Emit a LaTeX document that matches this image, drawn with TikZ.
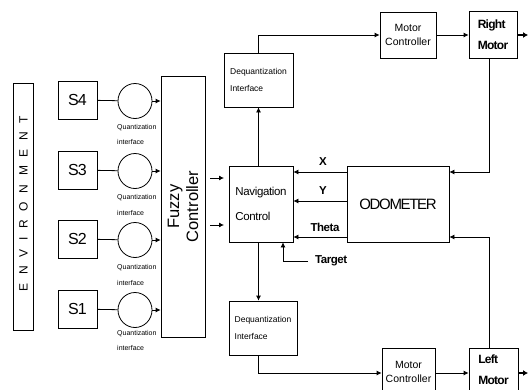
\documentclass[tikz,border=0pt]{standalone}
\usepackage{fontspec}
\setmainfont{Liberation Sans}
\usetikzlibrary{arrows.meta}
\tikzset{
  box/.style={draw, line width=0.8pt, rectangle, inner sep=0pt},
  ln/.style={line width=0.8pt},
  arr/.style={line width=0.8pt, -{Latex[length=5pt,width=5pt]}},
  outarr/.style={line width=1.6pt, -{Latex[length=5pt,width=6pt]}},
  qcirc/.style={draw, ellipse, line width=0.8pt, minimum width=34pt, minimum height=35pt, inner sep=0pt},
  qlab/.style={anchor=west, inner sep=0pt, font=\fontsize{7}{8}\selectfont},
  sbox/.style={box, minimum width=39pt, minimum height=38pt, font=\fontsize{16}{18}\selectfont\addfontfeature{LetterSpace=-6}},
  deq/.style={box, minimum width=69pt, minimum height=54pt, align=left, font=\fontsize{8.5}{17}\selectfont},
  mctl/.style={box, minimum width=56pt, minimum height=46pt, align=center, font=\fontsize{10.5}{14}\selectfont},
  motor/.style={box, minimum width=48pt, minimum height=47pt, align=left, font=\bfseries\fontsize{12}{21}\selectfont\addfontfeature{LetterSpace=-6}},
  sig/.style={inner sep=0pt, font=\bfseries\fontsize{11.5}{13}\selectfont\addfontfeature{LetterSpace=-4}},
}
\usetikzlibrary{shapes.geometric}
\begin{document}
\begin{tikzpicture}[x=1pt, y=-1pt]
\useasboundingbox (0,0) rectangle (528,389);
\clip (0,0) rectangle (528,389);

% environment
\node[box, rotate=90, minimum width=247pt, minimum height=20pt,
      font=\fontsize{12}{14}\selectfont\addfontfeature{LetterSpace=72}] (env) at (23.5,206.5) {\hspace{6pt}ENVIRONMENT};

% sensors
\node[sbox] (s4) at (77.5,100) {S4};
\node[sbox] (s3) at (77.5,170) {S3};
\node[sbox] (s2) at (77.5,239) {S2};
\node[sbox] (s1) at (77.5,309) {S1};

\node[qcirc] (q4) at (135,101) {};
\node[qcirc] (q3) at (135,171) {};
\node[qcirc] (q2) at (135,240) {};
\node[qcirc] (q1) at (135,310) {};

\node[qlab] (q4a) at (117,128) {Quantization};
\node[qlab] (q4b) at (117,142) {interface};
\node[qlab] (q3a) at (117,198) {Quantization};
\node[qlab] (q3b) at (117,213) {interface};
\node[qlab] (q2a) at (117,268) {Quantization};
\node[qlab] (q2b) at (117,283) {interface};
\node[qlab] (q1a) at (117,334) {Quantization};
\node[qlab] (q1b) at (117,348) {interface};

% fuzzy controller
\node[box, rotate=90, minimum width=261pt, minimum height=44pt, align=center,
      font=\fontsize{16.5}{19}\selectfont] (fz) at (183,206.5) {Fuzzy\\Controller};

\foreach \i in {1,2,3,4}{
  \draw[ln] (s\i) -- (q\i);
  \draw[arr] (q\i) -- (q\i -| fz.north);
}

% navigation and odometer
\node[box, minimum width=64pt, minimum height=76pt, align=left,
      font=\fontsize{11.5}{25}\selectfont\addfontfeature{LetterSpace=-3}] (nav) at (261,204) {Navigation\\Control};
\node[box, minimum width=102pt, minimum height=76pt,
      font=\fontsize{15}{18}\selectfont\addfontfeature{LetterSpace=-9}] (odo) at (398,204) {ODOMETER};

\coordinate (fa1) at (210,178);
\coordinate (fb1) at (224,178);
\coordinate (fa2) at (210,225);
\coordinate (fb2) at (224,225);
\draw[arr] (fa1) -- (fb1);
\draw[arr] (fa2) -- (fb2);

\coordinate (yx) at (0,172);
\coordinate (yy) at (0,201);
\coordinate (yt) at (0,237);
\draw[arr] (odo.west |- yx) -- (nav.east |- yx);
\draw[arr] (odo.west |- yy) -- (nav.east |- yy);
\draw[arr] (odo.west |- yt) -- (nav.east |- yt);
\node[sig] (lx) at (323,162) {X};
\node[sig] (ly) at (323,191) {Y};
\node[sig] (lt) at (325,227) {Theta};

% target
\node[sig, anchor=west] (tgt) at (315,261) {Target};
\coordinate (tgx) at (283,0);
\draw[arr] ([xshift=-7pt]tgt.west) -| (nav.south -| tgx);

% dequantization
\node[deq] (dqu) at (258.5,80) {Dequantization\\Interface};
\node[deq, minimum width=68pt] (dql) at (263,328) {Dequantization\\Interface};
\draw[arr] (nav.north -| dqu.south) -- (dqu.south);
\draw[arr] (nav.south -| dqu.south) -- (dql.north -| dqu.south);

% motor controllers and motors
\node[mctl] (mcu) at (408,35) {Motor\\Controller};
\node[mctl, minimum width=53pt, minimum height=48pt] (mcl) at (408.5,372) {Motor\\Controller};
\node[motor] (rm) at (493,35) {Right\\Motor};
\node[motor, minimum width=49pt, minimum height=44pt] (lm) at (493.5,370) {Left\\Motor};

\coordinate (yl) at (0,373);
\draw[arr] (dqu.north) |- (mcu.west);
\draw[arr] (dql.south -| dqu.north) |- (mcl.west |- yl);
\draw[arr] (mcu.east) -- (rm.west);
\draw[arr] (mcl.east |- yl) -- (lm.west |- yl);

\coordinate (rmo) at (528,35);
\coordinate (lmo) at (528,373);
\draw[outarr] (rm.east) -- (rmo);
\draw[outarr] (lm.east |- yl) -- (lmo);

\coordinate (mx) at (489,0);
\draw[arr] (rm.south -| mx) |- (odo.east |- yx);
\draw[arr] (lm.north -| mx) |- (odo.east |- yt);
\end{tikzpicture}
\end{document}
